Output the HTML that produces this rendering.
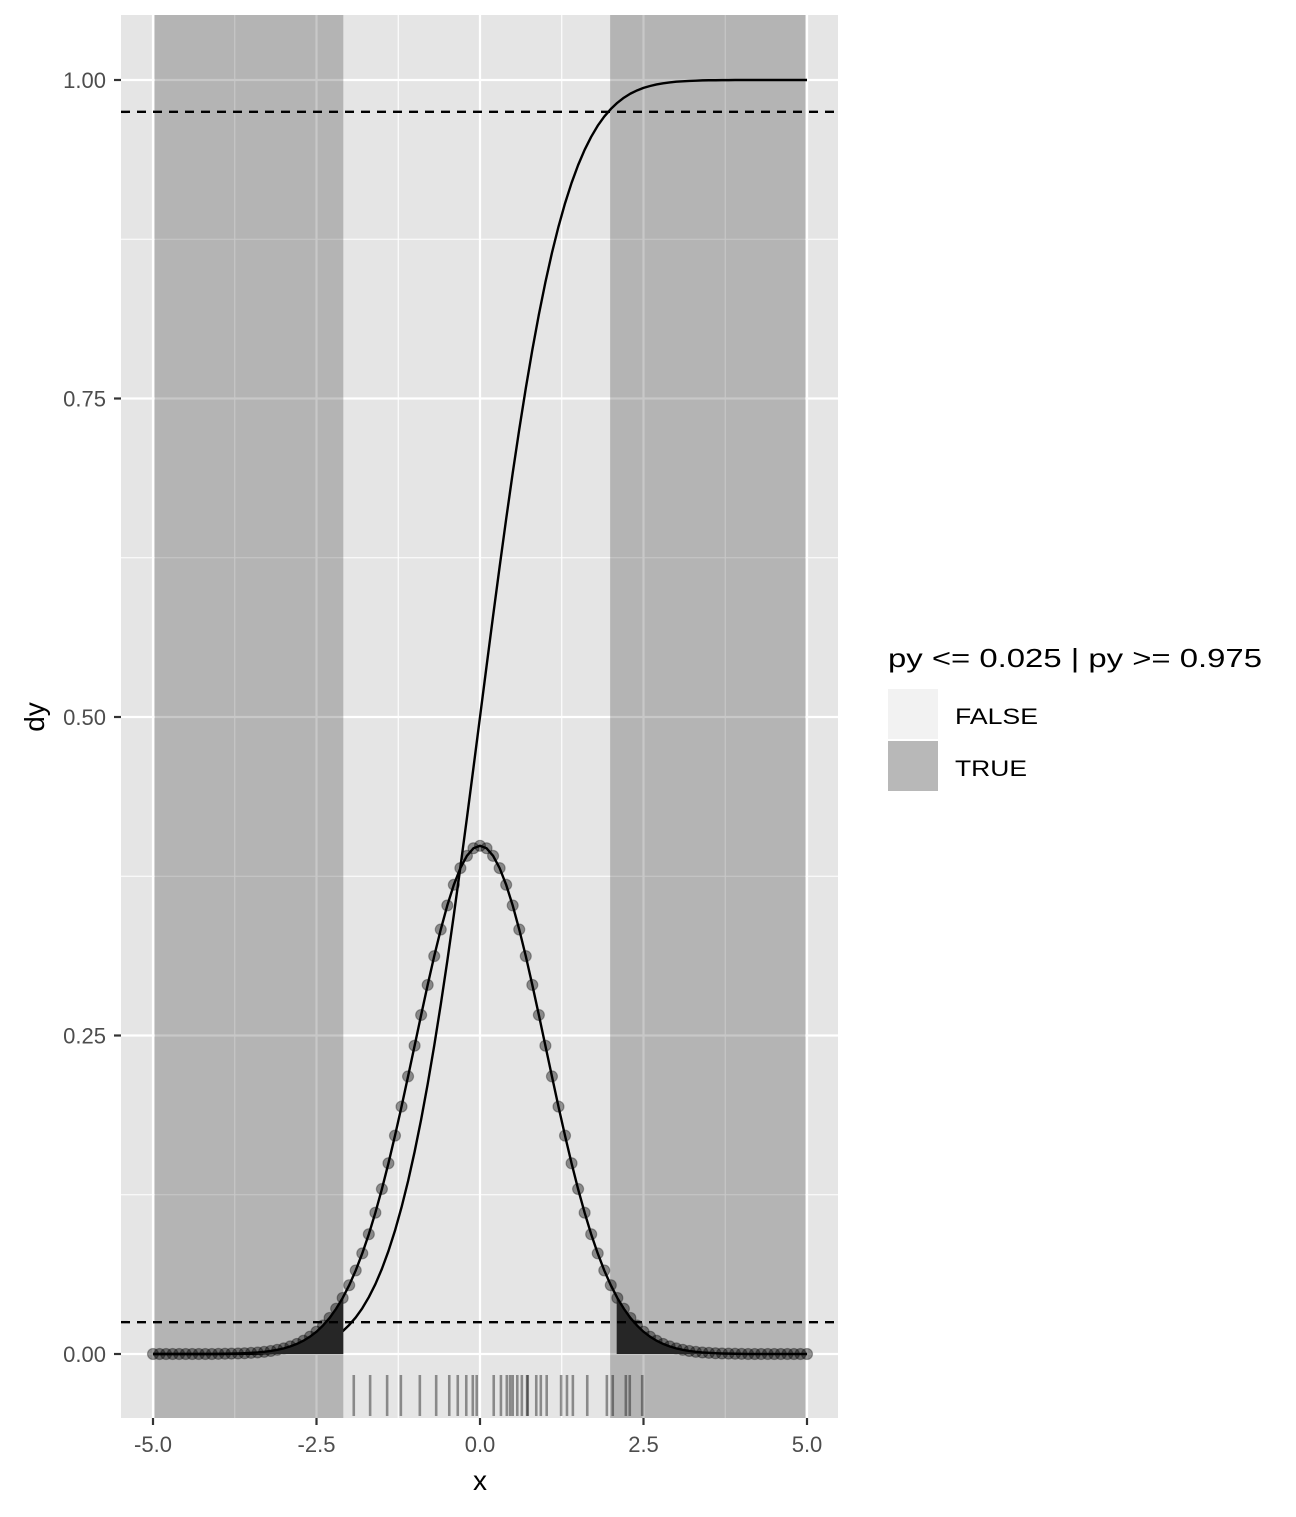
<!DOCTYPE html>
<html><head><meta charset="utf-8"><style>
body{margin:0;background:#fff}
svg text{font-family:"Liberation Sans",Arial,sans-serif}
</style></head><body>
<svg id="chart" width="1296" height="1512" xmlns="http://www.w3.org/2000/svg">
<rect x="121" y="15" width="717" height="1403" fill="#e5e5e5"/>
<g id="grid"></g>
<g id="shade"></g>
<g id="marks"></g>
<g id="axes"></g>
<g>
<text x="888" y="667" font-size="26" textLength="374" lengthAdjust="spacingAndGlyphs" fill="#000">py &lt;= 0.025 | py &gt;= 0.975</text>
<rect x="888" y="689" width="50" height="50" fill="#f2f2f2"/>
<rect x="888" y="741" width="50" height="50" fill="#b8b8b8"/>
<text x="955" y="724" font-size="22" textLength="83" lengthAdjust="spacingAndGlyphs" fill="#000">FALSE</text>
<text x="955" y="776" font-size="22" textLength="72" lengthAdjust="spacingAndGlyphs" fill="#000">TRUE</text>
</g>
<text x="480" y="1490" font-size="28" text-anchor="middle" fill="#000">x</text>
<text transform="translate(44,717) rotate(-90)" font-size="28" text-anchor="middle" fill="#000">dy</text>
</svg>
<script>
const xs = [-5,-4.9,-4.8,-4.7,-4.6,-4.5,-4.4,-4.3,-4.2,-4.1,-4,-3.9,-3.8,-3.7,-3.6,-3.5,-3.4,-3.3,-3.2,-3.1,-3,-2.9,-2.8,-2.7,-2.6,-2.5,-2.4,-2.3,-2.2,-2.1,-2,-1.9,-1.8,-1.7,-1.6,-1.5,-1.4,-1.3,-1.2,-1.1,-1,-0.9,-0.8,-0.7,-0.6,-0.5,-0.4,-0.3,-0.2,-0.1,0,0.1,0.2,0.3,0.4,0.5,0.6,0.7,0.8,0.9,1,1.1,1.2,1.3,1.4,1.5,1.6,1.7,1.8,1.9,2,2.1,2.2,2.3,2.4,2.5,2.6,2.7,2.8,2.9,3,3.1,3.2,3.3,3.4,3.5,3.6,3.7,3.8,3.9,4,4.1,4.2,4.3,4.4,4.5,4.6,4.7,4.8,4.9,5];
const density = [0,0,0,0,0,0,0,0,0,0,0.0001,0.0002,0.0003,0.0004,0.0006,0.0009,0.0012,0.0017,0.0024,0.0033,0.0044,0.0060,0.0079,0.0104,0.0136,0.0175,0.0224,0.0283,0.0355,0.0440,0.0540,0.0656,0.0790,0.0940,0.1109,0.1295,0.1497,0.1714,0.1942,0.2179,0.2420,0.2661,0.2897,0.3123,0.3332,0.3521,0.3683,0.3814,0.3910,0.3970,0.3989,0.3970,0.3910,0.3814,0.3683,0.3521,0.3332,0.3123,0.2897,0.2661,0.2420,0.2179,0.1942,0.1714,0.1497,0.1295,0.1109,0.0940,0.0790,0.0656,0.0540,0.0440,0.0355,0.0283,0.0224,0.0175,0.0136,0.0104,0.0079,0.0060,0.0044,0.0033,0.0024,0.0017,0.0012,0.0009,0.0006,0.0004,0.0003,0.0002,0.0001,0,0,0,0,0,0,0,0,0,0];
const cdf = [0,0,0,0,0,0,0,0,0,0,0,0,0.0001,0.0001,0.0002,0.0002,0.0003,0.0005,0.0007,0.0010,0.0013,0.0019,0.0026,0.0035,0.0047,0.0062,0.0082,0.0107,0.0139,0.0179,0.0228,0.0287,0.0359,0.0446,0.0548,0.0668,0.0808,0.0968,0.1151,0.1357,0.1587,0.1841,0.2119,0.2420,0.2743,0.3085,0.3446,0.3821,0.4207,0.4602,0.5,0.5398,0.5793,0.6179,0.6554,0.6915,0.7257,0.7580,0.7881,0.8159,0.8413,0.8643,0.8849,0.9032,0.9192,0.9332,0.9452,0.9554,0.9641,0.9713,0.9772,0.9821,0.9861,0.9893,0.9918,0.9938,0.9953,0.9965,0.9974,0.9981,0.9987,0.9990,0.9993,0.9995,0.9997,0.9998,0.9998,0.9999,0.9999,1,1,1,1,1,1,1,1,1,1,1,1];
const rug = [-1.93,-1.68,-1.42,-1.21,-0.92,-0.67,-0.47,-0.34,-0.21,-0.11,-0.05,0.21,0.32,0.41,0.46,0.50,0.57,0.64,0.72,0.73,0.86,0.93,1.02,1.24,1.33,1.42,1.64,1.94,2.03,2.23,2.29,2.48];
const tailCuts = [-2.09, 2.09];
const shadeRanges = [[-4.975,-2.09],[1.99,4.975]];
const quantileLines = [0.025, 0.975];
const xTicks = [-5,-2.5,0,2.5,5];
const xTickLabels = ["-5.0","-2.5","0.0","2.5","5.0"];
const yTicks = [0,0.25,0.5,0.75,1];
const yTickLabels = ["0.00","0.25","0.50","0.75","1.00"];

const NS="http://www.w3.org/2000/svg";
const X = v => 480 + v*65.4;
const Y = v => 1354 - v*1274;
function mk(parent, tag, attrs){const e=document.createElementNS(NS,tag);for(const k in attrs)e.setAttribute(k,attrs[k]);document.getElementById(parent).appendChild(e);return e;}
function interp(x){for(let i=0;i<xs.length-1;i++){if(x>=xs[i]&&x<=xs[i+1]){const t=(x-xs[i])/(xs[i+1]-xs[i]);return density[i]+t*(density[i+1]-density[i]);}}return 0;}

for(let i=0;i<xTicks.length-1;i++){const m=(xTicks[i]+xTicks[i+1])/2;
 const l=mk('grid','line',{x1:X(m),x2:X(m),y1:15,y2:1418,stroke:'#fff','stroke-width':1.1});
 
 }
for(let i=0;i<yTicks.length-1;i++){const m=(yTicks[i]+yTicks[i+1])/2;
 const l=mk('grid','line',{x1:121,x2:838,y1:Y(m),y2:Y(m),stroke:'#fff','stroke-width':1.1});
 
 }
xTicks.forEach(v=>{const l=mk('grid','line',{x1:X(v),x2:X(v),y1:15,y2:1418,stroke:'#fff','stroke-width':2.2});
 
 });
yTicks.forEach(v=>{const l=mk('grid','line',{x1:121,x2:838,y1:Y(v),y2:Y(v),stroke:'#fff','stroke-width':2.2});
 
 });

shadeRanges.forEach(r=>{const e=mk('shade','rect',{x:X(r[0]),y:15,width:X(r[1])-X(r[0]),height:1403,fill:'#1a1a1a','fill-opacity':0.24});
 
 });

// cdf line
{const d=xs.map((x,i)=>(i?'L':'M')+X(x)+','+Y(cdf[i])).join('');
 const p=mk('marks','path',{d:d,fill:'none',stroke:'#000','stroke-width':2.4,'stroke-linejoin':'round'});
 
 }
// points
xs.forEach((x,i)=>{const c=mk('marks','circle',{cx:X(x),cy:Y(density[i]),r:5.5,fill:'#000','fill-opacity':0.4,stroke:'#000','stroke-opacity':0.3,'stroke-width':1.2});
 
 });
// tail fills
{let pts=[[X(xs[0]),Y(0)]];xs.forEach((x,i)=>{if(x<=tailCuts[0])pts.push([X(x),Y(density[i])]);});
 pts.push([X(tailCuts[0]),Y(interp(tailCuts[0]))]);pts.push([X(tailCuts[0]),Y(0)]);
 const p=mk('marks','polygon',{points:pts.map(p=>p.join(',')).join(' '),fill:'#262626'});
 
 }
{let pts=[[X(tailCuts[1]),Y(0)],[X(tailCuts[1]),Y(interp(tailCuts[1]))]];xs.forEach((x,i)=>{if(x>=tailCuts[1])pts.push([X(x),Y(density[i])]);});
 pts.push([X(xs[xs.length-1]),Y(0)]);
 const p=mk('marks','polygon',{points:pts.map(p=>p.join(',')).join(' '),fill:'#262626'});
 
 }
// density line
{const d=xs.map((x,i)=>(i?'L':'M')+X(x)+','+Y(density[i])).join('');
 const p=mk('marks','path',{d:d,fill:'none',stroke:'#000','stroke-width':2.4});
 
 }
quantileLines.forEach(q=>{const l=mk('marks','line',{x1:121,x2:838,y1:Y(q),y2:Y(q),stroke:'#000','stroke-width':2.4,'stroke-dasharray':'9,7'});
 
 });
rug.forEach(v=>{const l=mk('marks','line',{x1:X(v),x2:X(v),y1:1375,y2:1416,stroke:'#000','stroke-opacity':0.4,'stroke-width':2.6});
 
 });

xTicks.forEach((v,i)=>{const l=mk('axes','line',{x1:X(v),x2:X(v),y1:1418,y2:1425,stroke:'#333','stroke-width':2.2});
 
 
 const t=mk('axes','text',{x:X(v),y:1452,'font-size':22,'text-anchor':'middle',fill:'#4d4d4d'});t.textContent=xTickLabels[i];
 
 });
yTicks.forEach((v,i)=>{const l=mk('axes','line',{x1:114,x2:121,y1:Y(v),y2:Y(v),stroke:'#333','stroke-width':2.2});
 
 
 const t=mk('axes','text',{x:106,y:Y(v)+8,'font-size':22,'text-anchor':'end',fill:'#4d4d4d'});t.textContent=yTickLabels[i];
 
 });
</script>
</body></html>
